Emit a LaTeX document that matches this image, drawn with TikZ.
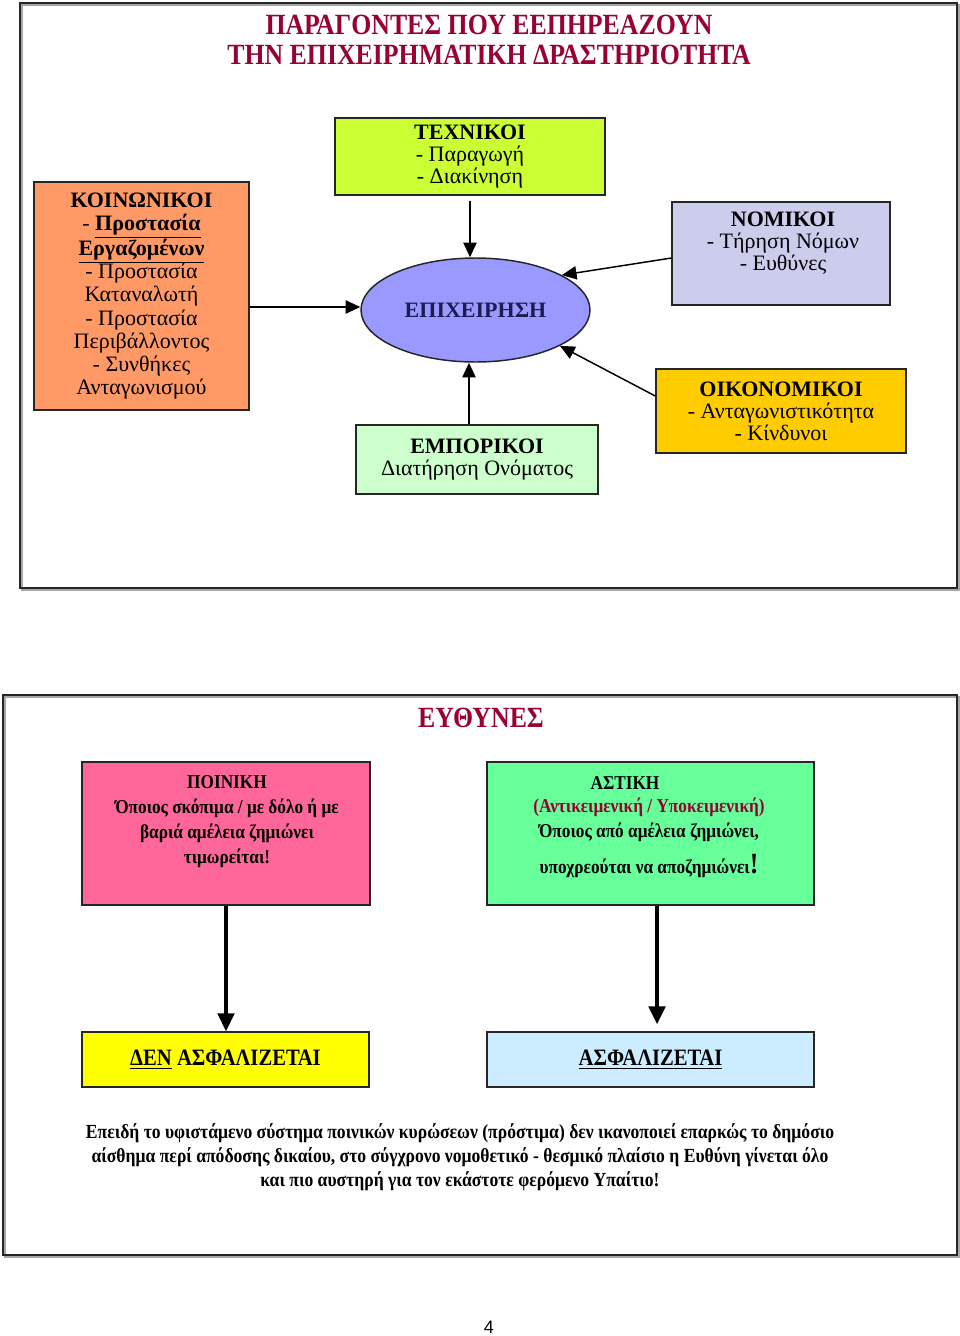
\documentclass[tikz,border=0pt]{standalone}
\usepackage{fontspec}
\setmainfont{Liberation Serif}
\newfontfamily\condf{Liberation Serif}[FakeStretch=0.88]
\newfontfamily\numf{Liberation Sans}
\usetikzlibrary{arrows.meta,shapes.geometric}
\definecolor{titred}{HTML}{990033}
\definecolor{cKoin}{HTML}{FF9966}
\definecolor{cTech}{HTML}{CCFF33}
\definecolor{cEll}{HTML}{9999FF}
\definecolor{cEll2}{HTML}{1C1C50}
\definecolor{cEmp}{HTML}{CCFFCC}
\definecolor{cNom}{HTML}{CCCCEC}
\definecolor{cOik}{HTML}{FFCC00}
\definecolor{cPoin}{HTML}{FF6699}
\definecolor{cAst}{HTML}{66FF99}
\definecolor{cDen}{HTML}{FFFF00}
\definecolor{cAsf}{HTML}{CCECFF}
\begin{document}
\begin{tikzpicture}[x=0.75pt,y=-0.75pt,
  box/.style={draw=black!85, line width=1.1pt, inner sep=0pt, align=center},
  txt/.style={inner sep=0pt, align=center},
  topf/.style={font=\fontsize{16.5}{16.5}\selectfont},
  botf/.style={font=\condf\bfseries\fontsize{14.7}{18.75}\selectfont},
  arr/.style={line width=1.1pt, -{Triangle[length=11pt,width=10pt]}},
  barr/.style={line width=2.5pt, -{Triangle[length=13.5pt,width=12.5pt]}},
  framebox/.style={draw=black!85, line width=1.3pt},
  shadowbox/.style={draw=black!35, line width=1pt}]
\useasboundingbox (0,0) rectangle (960,1336);
\fill[white] (0,0) rectangle (960,1336);
% frames
\draw[shadowbox] (22,5) rectangle (959,590);
\draw[framebox] (20,3) rectangle (957,588);
\draw[shadowbox] (5,697) rectangle (959,1257);
\draw[framebox] (3,695) rectangle (957,1255);
% title
\node[txt, text=titred, font=\condf\bfseries\fontsize{22}{22.5}\selectfont] (title) at (489,40)
  {ΠΑΡΑΓΟΝΤΕΣ ΠΟΥ ΕΕΠΗΡΕΑΖΟΥΝ\\ΤΗΝ ΕΠΙΧΕΙΡΗΜΑΤΙΚΗ ΔΡΑΣΤΗΡΙΟΤΗΤΑ};
% top boxes
\node[box, fill=cKoin, minimum width=215*0.75pt, minimum height=228*0.75pt,
  font=\fontsize{16.5}{17.4}\selectfont] (koin) at (141.5,296)
  {{\bfseries ΚΟΙΝΩΝΙΚΟΙ}\\- {\bfseries\underline{Προστασία}}\\{\bfseries\underline{Εργαζομένων}}\\- Προστασία\\Καταναλωτή\\- Προστασία\\Περιβάλλοντος\\- Συνθήκες\\Ανταγωνισμού};
\node[box, topf, fill=cTech, minimum width=270*0.75pt, minimum height=77*0.75pt] (tech) at (470,156.5)
  {{\bfseries ΤΕΧΝΙΚΟΙ}\\- Παραγωγή\\- Διακίνηση};
\node[draw=black!85, line width=1.1pt, ellipse, fill=cEll, inner sep=0pt,
  minimum width=229*0.75pt, minimum height=104*0.75pt,
  font=\bfseries\fontsize{16.5}{16.5}\selectfont, text=cEll2] (ell) at (475.5,310) {ΕΠΙΧΕΙΡΗΣΗ};
\node[box, topf, fill=cEmp, minimum width=242*0.75pt, minimum height=69*0.75pt] (emp) at (477,459.5)
  {{\bfseries ΕΜΠΟΡΙΚΟΙ}\\Διατήρηση Ονόματος};
\node[box, fill=cNom, minimum width=218*0.75pt, minimum height=103*0.75pt] (nom) at (781,253.5) {};
\node[txt, topf] (nomt) at (783,243) {{\bfseries ΝΟΜΙΚΟΙ}\\- Τήρηση Νόμων\\- Ευθύνες};
\node[box, topf, fill=cOik, minimum width=250*0.75pt, minimum height=84*0.75pt] (oik) at (781,411)
  {{\bfseries ΟΙΚΟΝΟΜΙΚΟΙ}\\- Ανταγωνιστικότητα\\- Κίνδυνοι};
% top arrows
\draw[arr] ([yshift=-8.25pt]koin.east) -- ([yshift=2.25pt]ell.west);
\draw[arr] ([yshift=-3.75pt]tech.south) -- (tech.south |- ell.north);
\draw[arr] ([xshift=-6pt]emp.north) -- ([xshift=-6pt]emp.north |- ell.south);
\draw[arr] ([yshift=-3.4pt]nom.west) -- (ell.22);
\draw[arr] ([yshift=11.25pt]oik.west) -- (ell.-23);
% bottom section
\node[txt, text=titred, font=\condf\bfseries\fontsize{22}{22.5}\selectfont] (euth) at (481,718) {ΕΥΘΥΝΕΣ};
\node[box, fill=cPoin, minimum width=288*0.75pt, minimum height=143*0.75pt] (poin) at (226,833.5) {};
\node[txt, botf] (point) at (227,822)
  {ΠΟΙΝΙΚΗ\\Όποιος σκόπιμα / με δόλο ή με\\βαριά αμέλεια ζημιώνει\\τιμωρείται!};
\node[box, fill=cAst, minimum width=327*0.75pt, minimum height=143*0.75pt] (ast) at (650.5,833.5) {};
\node[txt, botf] (astt1) at (625,783) {ΑΣΤΙΚΗ};
\node[txt, botf] (astt2) at (649,838)
  {\textcolor{titred}{(Αντικειμενική / Υποκειμενική)}\\Όποιος από αμέλεια ζημιώνει,\\[8pt]υποχρεούται να αποζημιώνει{\fontsize{22}{22}\selectfont!}};
\node[box, fill=cDen, minimum width=287*0.75pt, minimum height=55*0.75pt,
  font=\condf\bfseries\fontsize{17.6}{17.6}\selectfont] (den) at (225.5,1059.5)
  {\underline{ΔΕΝ} ΑΣΦΑΛΙΖΕΤΑΙ};
\node[box, fill=cAsf, minimum width=327*0.75pt, minimum height=55*0.75pt,
  font=\condf\bfseries\fontsize{17.6}{17.6}\selectfont] (asf) at (650.5,1059.5)
  {\underline{ΑΣΦΑΛΙΖΕΤΑΙ}};
\draw[barr] (poin.south) -- (poin.south |- den.north);
\draw[barr, shorten >=5.25pt] ([xshift=4.9pt]ast.south) -- ([xshift=4.9pt]ast.south |- asf.north);
\node[txt, font=\condf\bfseries\fontsize{15}{18}\selectfont] (para) at (460,1157)
  {Επειδή το υφιστάμενο σύστημα ποινικών κυρώσεων (πρόστιμα) δεν ικανοποιεί επαρκώς το δημόσιο\\
   αίσθημα περί απόδοσης δικαίου, στο σύγχρονο νομοθετικό - θεσμικό πλαίσιο η Ευθύνη γίνεται όλο\\
   και πιο αυστηρή για τον εκάστοτε φερόμενο Υπαίτιο!};
\node[txt, font=\numf\fontsize{13.5}{13.5}\selectfont] (pnum) at (489,1327) {4};
\end{tikzpicture}
\end{document}
